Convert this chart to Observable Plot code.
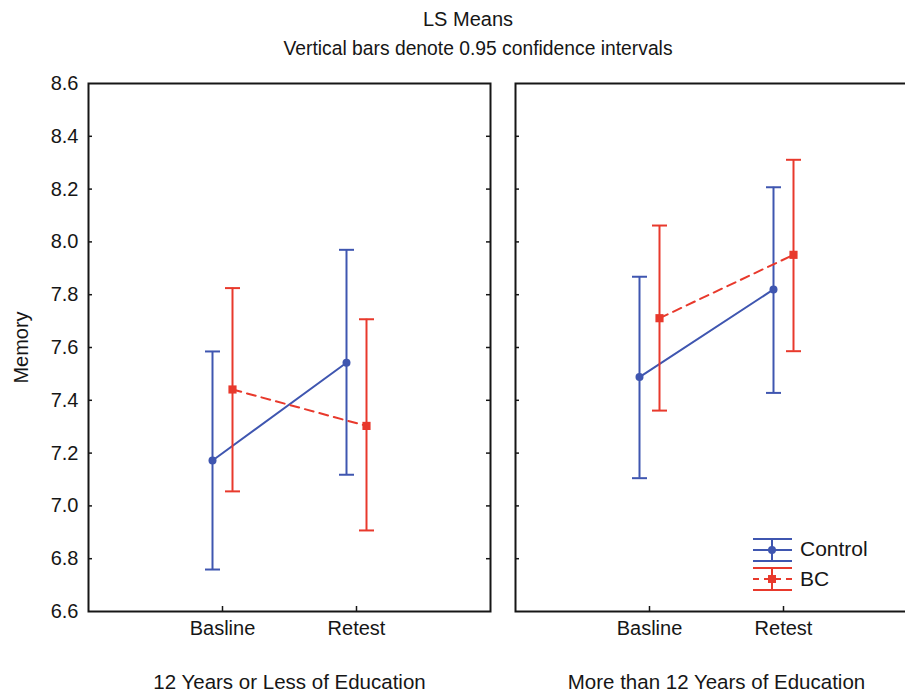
<!DOCTYPE html>
<html><head><meta charset="utf-8">
<script src="https://cdn.jsdelivr.net/npm/d3@7"></script>
<script src="https://cdn.jsdelivr.net/npm/@observablehq/plot@0.6"></script>
<style>
body{margin:0;background:#fff;overflow:hidden;font-family:"Liberation Sans",Arial,sans-serif;color:#161616;}
#wrap{position:relative;width:905px;height:693px;overflow:hidden;}
#chart{position:absolute;left:0;top:0;}
.t{position:absolute;text-align:center;white-space:nowrap;line-height:20px;}
#legend{position:absolute;left:745px;top:530px;}
.lt{position:absolute;font-size:21px;line-height:22px;white-space:nowrap;}
</style></head>
<body><div id="wrap">
<div id="chart"></div>
<div class="t" style="left:268px;width:400px;top:9px;font-size:20px;">LS Means</div>
<div class="t" style="left:228px;width:500px;top:39px;font-size:19.3px;">Vertical bars denote 0.95 confidence intervals</div>
<svg id="legend" width="60" height="70"></svg>
<div class="lt" style="left:800px;top:538px;">Control</div>
<div class="lt" style="left:800px;top:568px;">BC</div>
</div>
<script>
const groups = ["12 Years or Less of Education", "More than 12 Years of Education"];
const periods = ["Basline", "Retest"];
const seriesNames = ["Control", "BC"];
// order: [group0 Basline, group0 Retest, group1 Basline, group1 Retest]
const controlMean = [7.172, 7.542, 7.488, 7.820];
const controlLow  = [6.759, 7.118, 7.105, 7.428];
const controlHigh = [7.585, 7.970, 7.868, 8.207];
const bcMean = [7.441, 7.303, 7.711, 7.951];
const bcLow  = [7.055, 6.907, 7.361, 7.586];
const bcHigh = [7.825, 7.707, 8.062, 8.311];
const yTicks = [6.6, 6.8, 7.0, 7.2, 7.4, 7.6, 7.8, 8.0, 8.2, 8.4, 8.6];

const BLUE = "#3f56b0", RED = "#e8392c", INK = "#161616";

function rows(name, mean, low, high) {
  const out = [];
  groups.forEach((g, gi) => periods.forEach((p, pi) => {
    const k = gi * 2 + pi;
    out.push({series: name, group: g, period: p, mean: mean[k], low: low[k], high: high[k]});
  }));
  return out;
}
const control = rows(seriesNames[0], controlMean, controlLow, controlHigh);
const bc = rows(seriesNames[1], bcMean, bcLow, bcHigh);

// horizontal cap symbol for error bars
const capSymbol = {
  draw(ctx, size) {
    const w = Math.sqrt(size / Math.PI);
    ctx.moveTo(-w, 0);
    ctx.lineTo(w, 0);
  }
};

function seriesMarks(data, color, dx, dash, symbol, r) {
  return [
    Plot.ruleX(data, {x: "period", y1: "low", y2: "high", fx: "group", dx, stroke: color, strokeWidth: 2}),
    Plot.dot(data, {x: "period", y: "low", fx: "group", dx, symbol: capSymbol, r: 7.5, stroke: color, fill: "none", strokeWidth: 2}),
    Plot.dot(data, {x: "period", y: "high", fx: "group", dx, symbol: capSymbol, r: 7.5, stroke: color, fill: "none", strokeWidth: 2}),
    Plot.line(data, {x: "period", y: "mean", fx: "group", z: "group", dx, stroke: color, strokeWidth: 2, strokeDasharray: dash}),
    Plot.dot(data, {x: "period", y: "mean", fx: "group", dx, fill: color, stroke: "none", symbol, r})
  ];
}

const innerTicks = yTicks.slice(1, -1);
const chart = Plot.plot({
  width: 920,
  height: 693,
  marginTop: 83,
  marginBottom: 82,
  marginLeft: 87,
  marginRight: 2,
  style: {fontFamily: "Liberation Sans, Arial, sans-serif", fontSize: "20px", color: INK, background: "white", maxWidth: "none"},
  fx: {domain: groups, paddingInner: 0.0584, paddingOuter: 0, axis: null, label: null},
  x: {type: "point", domain: periods, padding: 1, label: null, tickSize: 0, tickPadding: 9},
  y: {domain: [6.6, 8.6], ticks: yTicks, tickFormat: d3.format(".1f"), tickSize: 0, tickPadding: 10,
      label: "Memory", labelAnchor: "center", labelOffset: 75, labelArrow: "none"},
  marks: [
    Plot.frame({stroke: INK, strokeWidth: 2}),
    Plot.ruleY(innerTicks, {y: d => d, insetRight: 398, stroke: INK, strokeWidth: 1.5}),
    Plot.ruleY(innerTicks, {y: d => d, insetLeft: 398, stroke: INK, strokeWidth: 1.5}),
    Plot.ruleX(periods, {x: d => d, insetTop: 523, stroke: INK, strokeWidth: 1.5}),
    ...seriesMarks(control, BLUE, -10, null, "circle", 4),
    ...seriesMarks(bc, RED, 10, "9,6", "square", 4.6),
    Plot.text(groups, {fx: d => d, text: d => d, frameAnchor: "bottom", dy: 77, fontSize: 20.5, fill: INK})
  ]
});
document.getElementById("chart").append(chart);

// legend
const lg = d3.select("#legend");
const ox = 745, oy = 530;
function legendItem(color, cy, dashed, sym) {
  const x1 = 753 - ox, x2 = 792 - ox, xc = 772 - ox, y = cy - oy;
  lg.append("line").attr("x1", x1).attr("x2", x2).attr("y1", y - 11).attr("y2", y - 11).attr("stroke", color).attr("stroke-width", 2);
  lg.append("line").attr("x1", x1).attr("x2", x2).attr("y1", y + 11).attr("y2", y + 11).attr("stroke", color).attr("stroke-width", 2);
  lg.append("line").attr("x1", xc).attr("x2", xc).attr("y1", y - 11).attr("y2", y + 11).attr("stroke", color).attr("stroke-width", 2);
  lg.append("line").attr("x1", x1).attr("x2", x2).attr("y1", y).attr("y2", y).attr("stroke", color).attr("stroke-width", 2)
    .attr("stroke-dasharray", dashed ? "6,5" : null);
  lg.append("path").attr("transform", `translate(${xc},${y})`)
    .attr("d", d3.symbol(sym === "square" ? d3.symbolSquare : d3.symbolCircle, sym === "square" ? 64 : 50)())
    .attr("fill", color);
}
legendItem(BLUE, 550, false, "circle");
legendItem(RED, 579, true, "square");
</script>
</body></html>
